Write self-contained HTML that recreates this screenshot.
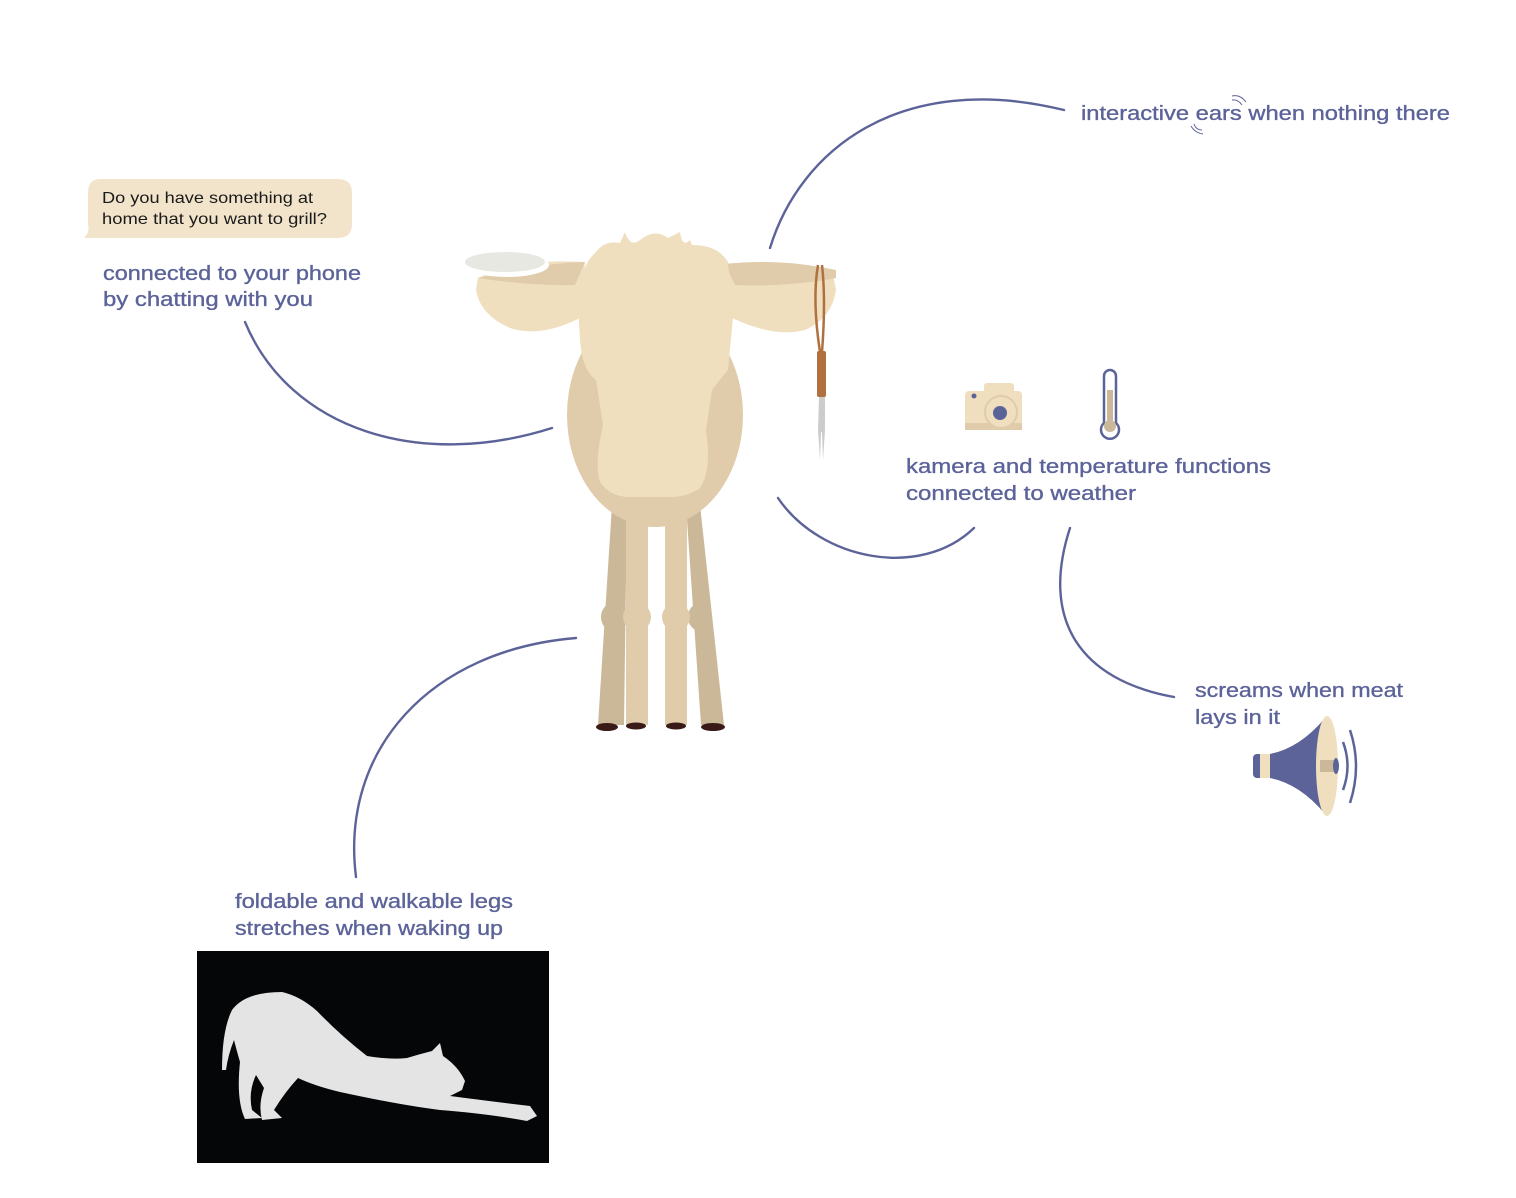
<!DOCTYPE html>
<html><head><meta charset="utf-8"><style>
html,body{margin:0;padding:0;background:#fff;}
svg{display:block;}
.t{font-family:"Liberation Sans",sans-serif;font-size:20px;fill:#5c6399;stroke:#5c6399;stroke-width:0.35;}
.b{font-family:"Liberation Sans",sans-serif;font-size:16px;fill:#1a1a1a;}
.c{fill:none;stroke:#5c6399;stroke-width:2.4;stroke-linecap:round;}
</style></head><body>
<svg width="1516" height="1198" viewBox="0 0 1516 1198" xmlns="http://www.w3.org/2000/svg">
<!-- connectors -->
<path class="c" d="M770,248 C800,150 900,70 1064,110"/>
<path class="c" d="M245,322 C290,430 420,470 552,428"/>
<path class="c" d="M778,498 C820,560 920,580 974,528"/>
<path class="c" d="M1070,528 C1040,620 1080,680 1174,697"/>
<path class="c" d="M576,638 C430,650 340,750 356,877"/>

<!-- chat bubble -->
<path d="M100,179 H338 Q352,179 352,193 V224 Q352,238 338,238 H96 Q90,238 84,238 Q90,232 88,224 V193 Q88,179 100,179 Z" fill="#f2e4cb"/>
<text class="b" x="102" y="203" textLength="211" lengthAdjust="spacingAndGlyphs">Do you have something at</text>
<text class="b" x="102" y="224" textLength="225" lengthAdjust="spacingAndGlyphs">home that you want to grill?</text>

<!-- labels -->
<text class="t" x="103" y="280" textLength="258" lengthAdjust="spacingAndGlyphs">connected to your phone</text>
<text class="t" x="103" y="306" textLength="210" lengthAdjust="spacingAndGlyphs">by chatting with you</text>
<text class="t" x="1081" y="120" textLength="369" lengthAdjust="spacingAndGlyphs">interactive ears when nothing there</text>
<path d="M1232,96 q8,-2 14,6 M1232,100 q6,-1 10,5" fill="none" stroke="#5c6399" stroke-width="1"/>
<path d="M1203,134 q-8,-1 -12,-8 M1202,130 q-6,0 -8,-6" fill="none" stroke="#5c6399" stroke-width="1"/>
<text class="t" x="906" y="473" textLength="365" lengthAdjust="spacingAndGlyphs">kamera and temperature functions</text>
<text class="t" x="906" y="500" textLength="230" lengthAdjust="spacingAndGlyphs">connected to weather</text>
<text class="t" x="1195" y="697" textLength="208" lengthAdjust="spacingAndGlyphs">screams when meat</text>
<text class="t" x="1195" y="724" textLength="85" lengthAdjust="spacingAndGlyphs">lays in it</text>
<text class="t" x="235" y="908" textLength="278" lengthAdjust="spacingAndGlyphs">foldable and walkable legs</text>
<text class="t" x="235" y="935" textLength="268" lengthAdjust="spacingAndGlyphs">stretches when waking up</text>

<!-- cow -->
<g>
  <path d="M612,505 L627,505 L624,725 L598,725 Z" fill="#cbb898"/>
  <path d="M686,505 L700,505 L724,725 L701,725 Z" fill="#cbb898"/>
  <rect x="626" y="505" width="22" height="220" fill="#e0cbab"/>
  <rect x="665" y="505" width="22" height="220" fill="#e0cbab"/>
  <ellipse cx="613" cy="617" rx="12" ry="14" fill="#cbb898"/>
  <ellipse cx="700" cy="617" rx="12" ry="14" fill="#cbb898"/>
  <ellipse cx="637" cy="617" rx="14" ry="14" fill="#e0cbab"/>
  <ellipse cx="676" cy="617" rx="14" ry="14" fill="#e0cbab"/>
  <ellipse cx="607" cy="727" rx="11" ry="4" fill="#3a1a16"/>
  <ellipse cx="636" cy="726" rx="10" ry="3.5" fill="#3a1a16"/>
  <ellipse cx="676" cy="726" rx="10" ry="3.5" fill="#3a1a16"/>
  <ellipse cx="713" cy="727" rx="12" ry="4" fill="#3a1a16"/>
  <ellipse cx="655" cy="415" rx="88" ry="112" fill="#e0cbab"/>
  <path d="M478,278 Q520,258 585,262 L580,318 Q540,338 510,328 Q480,315 476,290 Z" fill="#efdfbf"/>
  <path d="M478,278 Q530,264 585,262 L575,285 Q530,286 478,278 Z" fill="#e0cbab"/>
  <path d="M832,270 Q790,260 725,264 L732,318 Q775,338 805,330 Q832,318 836,290 Z" fill="#efdfbf"/>
  <path d="M836,270 Q780,258 725,264 L735,285 Q790,287 836,278 Z" fill="#e0cbab"/>
  <path d="M596,252 Q605,240 620,243 L625,232 Q630,248 640,240 Q655,228 668,238 L680,232 Q682,248 690,240 L692,245 Q718,245 728,262 L733,318 L728,370 Q718,382 712,390 L706,430 Q712,470 700,488 Q688,497 670,497 L630,497 Q610,497 600,482 Q594,465 603,425 L596,380 Q582,370 580,340 L577,290 Q584,262 596,252 Z" fill="#efdfbf"/>
  <ellipse cx="507" cy="265" rx="42" ry="12" fill="#fff"/>
  <ellipse cx="505" cy="262" rx="40" ry="10" fill="#e8e8e3"/>
  <path d="M818,265 Q812,300 820,352 M822,265 Q826,300 822,352" fill="none" stroke="#b07040" stroke-width="2.5"/>
  <rect x="817" y="351" width="9" height="46" rx="2" fill="#b07040"/>
  <path d="M819,397 H825 V430 L823,460 L822,432 L821,432 L820,460 L818,430 Z" fill="#ccc"/>
</g>

<!-- camera -->
<g>
  <rect x="984" y="383" width="30" height="10" rx="3" fill="#efdfbf"/>
  <rect x="965" y="391" width="57" height="39" rx="4" fill="#efdfbf"/>
  <rect x="965" y="423" width="57" height="7" fill="#e0cbab"/>
  <circle cx="1001" cy="412" r="16" fill="#efdfbf" stroke="#e0cbab" stroke-width="2"/>
  <circle cx="1000" cy="413" r="7" fill="#5c6399"/>
  <circle cx="974" cy="396" r="2.5" fill="#5c6399"/>
</g>
<!-- thermometer -->
<g>
  <path d="M1104,423 V376 a6,6 0 0 1 12,0 V423 a9,9 0 1 1 -12,0 Z" fill="#fff" stroke="#5c6399" stroke-width="2.5"/>
  <rect x="1107" y="390" width="6" height="36" fill="#cbb898"/>
  <circle cx="1110" cy="426" r="6" fill="#cbb898"/>
</g>
<!-- megaphone -->
<g>
  <rect x="1253" y="754" width="12" height="24" rx="4" fill="#5c6399"/>
  <rect x="1260" y="754" width="10" height="24" fill="#efdfbf"/>
  <path d="M1270,754 Q1300,748 1325,718 L1325,814 Q1300,784 1270,778 Z" fill="#5c6399"/>
  <ellipse cx="1327" cy="766" rx="11" ry="50" fill="#efdfbf"/>
  <path d="M1320,760 L1335,760 L1335,772 L1320,772 Z" fill="#cbb898"/>
  <ellipse cx="1336" cy="766" rx="3" ry="8" fill="#5c6399"/>
  <path d="M1343,742 Q1352,766 1343,790 M1350,730 Q1362,766 1350,803" fill="none" stroke="#5c6399" stroke-width="2.5"/>
</g>

<!-- cat photo -->
<rect x="197" y="951" width="352" height="212" fill="#050608"/>
<path fill="#e4e4e4" d="M222,1070 Q222,1030 232,1010 Q245,992 282,992 Q300,996 317,1011 Q340,1035 367,1056 Q390,1060 407,1058 Q420,1054 432,1051 L440,1043 L443,1056 Q458,1066 465,1081 L462,1090 L450,1096 Q480,1100 530,1106 L537,1116 L527,1121 Q490,1114 440,1110 Q400,1105 340,1092 Q315,1086 298,1078 Q285,1092 274,1110 L282,1118 L262,1120 Q258,1105 264,1088 L256,1075 Q248,1092 252,1110 L262,1118 L245,1119 Q236,1100 240,1062 Q236,1048 234,1040 Q228,1055 226,1070 Z"/>
</svg>
</body></html>
